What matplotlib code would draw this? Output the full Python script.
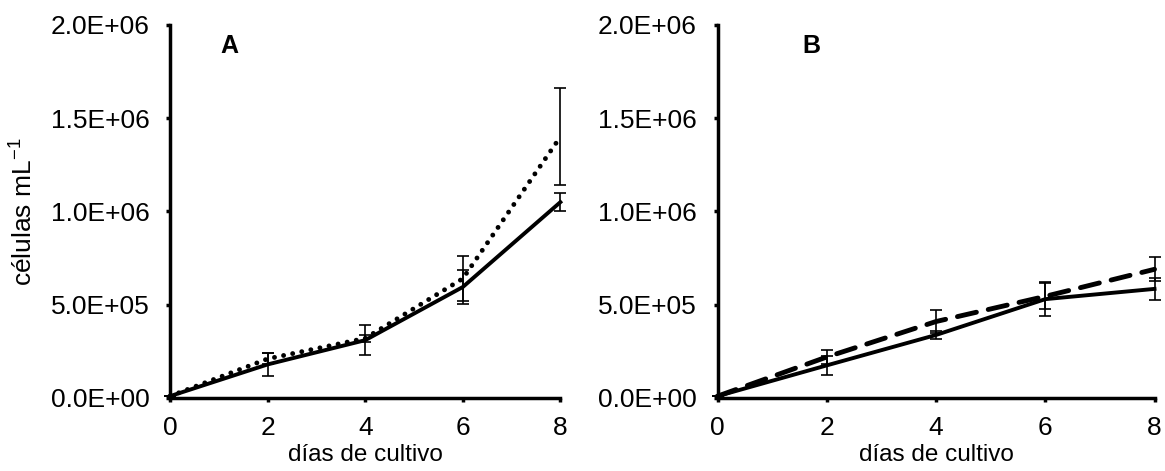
import matplotlib.pyplot as plt
from matplotlib.ticker import FuncFormatter

plt.rcParams['font.family'] = ['Liberation Sans', 'DejaVu Sans']

dias = [0, 2, 4, 6, 8]

# panel A
a_solid = [1.0e4, 1.8e5, 3.1e5, 5.95e5, 1.05e6]
a_solid_err = [0, 6.0e4, 8.0e4, 9.0e4, 5.0e4]
a_dot = [1.0e4, 2.1e5, 3.2e5, 6.4e5, 1.40e6]
a_dot_err = [0, 3.0e4, 2.0e4, 1.2e5, 2.6e5]

# panel B
b_solid = [1.0e4, 1.75e5, 3.38e5, 5.3e5, 5.85e5]
b_solid_err = [0, 5.0e4, 2.0e4, 9.0e4, 6.0e4]
b_dash = [1.0e4, 2.2e5, 4.1e5, 5.45e5, 6.9e5]
b_dash_err = [0, 4.0e4, 6.0e4, 7.0e4, 6.5e4]

fig = plt.figure(figsize=(11.65, 4.71), dpi=100)
axA = fig.add_axes([0.146, 0.155, 0.335, 0.792])
axB = fig.add_axes([0.616, 0.155, 0.375, 0.792])

def estilo(ax):
    ax.set_xlim(0, 8)
    ax.set_ylim(0, 2.0e6)
    ax.set_xticks(dias)
    ax.set_yticks([0, 5e5, 1e6, 1.5e6, 2e6])
    ax.yaxis.set_major_formatter(FuncFormatter(lambda v, p: f"{v:.1E}"))
    for s in ['top', 'right']:
        ax.spines[s].set_visible(False)
    for s in ['left', 'bottom']:
        ax.spines[s].set_linewidth(2.5)
    ax.tick_params(direction='out', length=3, width=2.5, labelsize=19, pad=12)
    ax.tick_params(axis='x', pad=10)
    ax.set_xlabel("días de cultivo", fontsize=17.5, labelpad=3)

eb = dict(color='black', capsize=4, elinewidth=1.2, capthick=1.2, clip_on=False)

axA.plot(dias, a_dot, color='black', lw=3.5, linestyle=(0, (0.01, 1.9)),
         dash_capstyle='round', clip_on=False)
axA.errorbar(dias, a_dot, yerr=a_dot_err, fmt='none', **eb)
axA.plot(dias, a_solid, color='black', lw=2.8, clip_on=False)
axA.errorbar(dias, a_solid, yerr=a_solid_err, fmt='none', **eb)
estilo(axA)
axA.set_ylabel("células mL$^{\\mathregular{-1}}$", fontsize=19, labelpad=10)
axA.text(0.128, 0.925, "A", transform=axA.transAxes, fontsize=18, fontweight='bold')

axB.plot(dias, b_dash, color='black', lw=3.5, linestyle=(0, (4, 2.5)),
         dash_capstyle='round', clip_on=False)
axB.errorbar(dias, b_dash, yerr=b_dash_err, fmt='none', **eb)
axB.plot(dias, b_solid, color='black', lw=2.8, clip_on=False)
axB.errorbar(dias, b_solid, yerr=b_solid_err, fmt='none', **eb)
estilo(axB)
axB.text(0.195, 0.925, "B", transform=axB.transAxes, fontsize=18, fontweight='bold')

fig.savefig("out.png", dpi=100)
